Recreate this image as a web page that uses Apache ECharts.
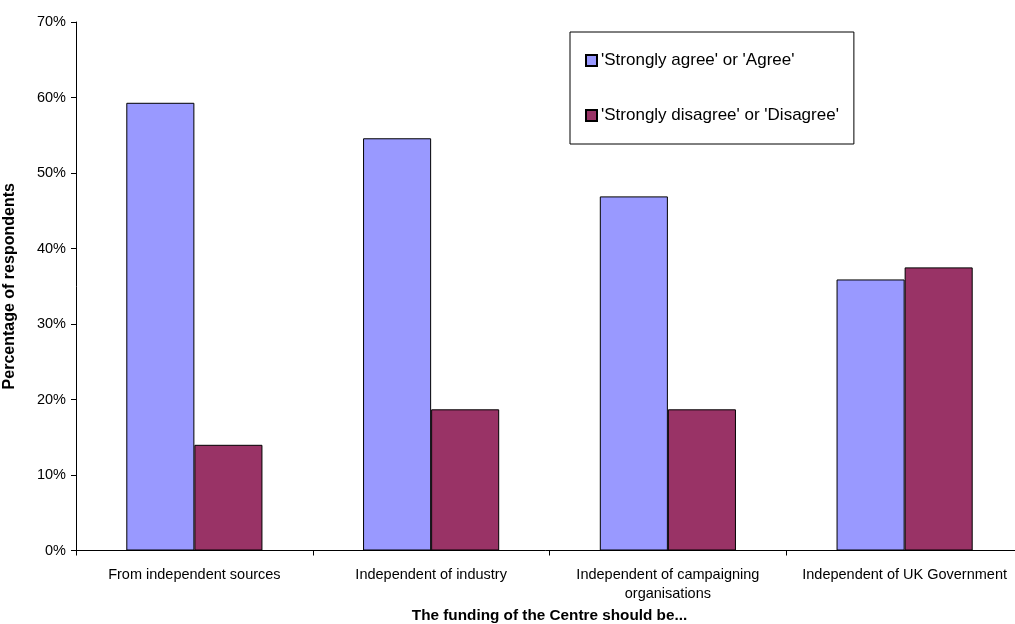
<!DOCTYPE html>
<html>
<head>
<meta charset="utf-8">
<script src="https://cdn.jsdelivr.net/npm/echarts@6/dist/echarts.min.js"></script>
<style>
  html, body { margin: 0; padding: 0; background: #ffffff; }
  #chart { width: 1015px; height: 624px; }
</style>
</head>
<body>
<div id="chart"></div>
<script>
// Survey: how the Centre's funding should be arranged
const categories = [
  'From independent sources',
  'Independent of industry',
  'Independent of campaigning\norganisations',
  'Independent of UK Government'
];
const agreeName = "'Strongly agree' or 'Agree'";
const disagreeName = "'Strongly disagree' or 'Disagree'";
const agreeValues = [59.3, 54.6, 46.9, 35.9];
const disagreeValues = [14.0, 18.7, 18.7, 37.5];
const yTicks = { min: 0, max: 70, step: 10 };

const FONT = 'Liberation Sans, Arial, Helvetica, sans-serif';

const chart = echarts.init(document.getElementById('chart'), null, { renderer: 'canvas' });

chart.setOption({
  animation: false,
  backgroundColor: '#ffffff',
  textStyle: { fontFamily: FONT, color: '#000' },
  grid: {
    left: 76,
    top: 22,
    width: 947,
    height: 528.5,
    containLabel: false,
    outerBoundsMode: 'none'
  },
  legend: {
    orient: 'vertical',
    left: 570,
    top: 32,
    padding: [20, 15, 20, 15],
    itemGap: 38,
    itemWidth: 11,
    itemHeight: 11,
    icon: 'rect',
    borderColor: '#000',
    borderWidth: 1,
    backgroundColor: '#fff',
    textStyle: { fontFamily: FONT, fontSize: 17, color: '#000', padding: [0, 0, 0, -1] },
    data: [agreeName, disagreeName]
  },
  xAxis: {
    type: 'category',
    data: categories,
    name: 'The funding of the Centre should be...',
    nameLocation: 'middle',
    nameGap: 55,
    nameTextStyle: { fontFamily: FONT, fontSize: 15.3, fontWeight: 'bold', color: '#000' },
    axisLine: { show: true, lineStyle: { color: '#000', width: 1 } },
    axisTick: { show: true, alignWithLabel: false, length: 5, lineStyle: { color: '#000' } },
    axisLabel: {
      interval: 0,
      margin: 15,
      fontFamily: FONT,
      fontSize: 14.5,
      lineHeight: 19,
      color: '#000'
    },
    splitLine: { show: false }
  },
  yAxis: {
    type: 'value',
    min: yTicks.min,
    max: yTicks.max,
    interval: yTicks.step,
    name: 'Percentage of respondents',
    nameLocation: 'middle',
    nameGap: 58,
    nameTextStyle: { fontFamily: FONT, fontSize: 16, fontWeight: 'bold', color: '#000' },
    axisLine: { show: true, lineStyle: { color: '#000', width: 1 } },
    axisTick: { show: true, length: 5, lineStyle: { color: '#000' } },
    axisLabel: {
      formatter: '{value}%',
      margin: 10,
      fontFamily: FONT,
      fontSize: 14.5,
      color: '#000'
    },
    splitLine: { show: false }
  },
  series: [
    {
      name: agreeName,
      type: 'bar',
      data: agreeValues,
      barGap: '0%',
      barCategoryGap: '42.5%',
      itemStyle: { color: '#9999FF', borderColor: '#000', borderWidth: 1 }
    },
    {
      name: disagreeName,
      type: 'bar',
      data: disagreeValues,
      barGap: '0%',
      barCategoryGap: '42.5%',
      itemStyle: { color: '#993366', borderColor: '#000', borderWidth: 1 }
    }
  ]
});
</script>
</body>
</html>
